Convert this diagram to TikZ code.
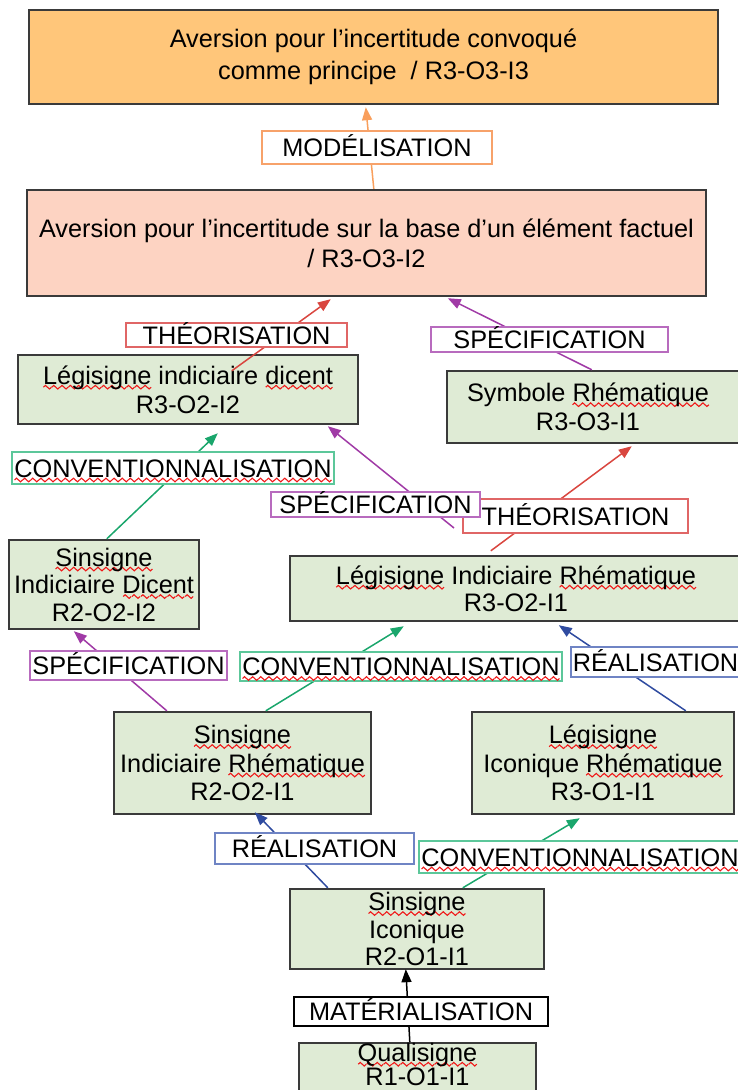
\documentclass[tikz,border=0pt]{standalone}
\usepackage{fontspec}
\setmainfont{Liberation Sans}
\usetikzlibrary{arrows.meta,calc}
\definecolor{fOrange}{HTML}{FFC67A}
\definecolor{fSalmon}{HTML}{FDD3C2}
\definecolor{fGreen}{HTML}{DFEBD5}
\definecolor{bGray}{HTML}{3A3A3A}
\definecolor{aOrange}{HTML}{F99F5C}
\definecolor{aRed}{HTML}{D9463F}
\definecolor{aPurple}{HTML}{A03AA6}
\definecolor{aGreen}{HTML}{1AA66C}
\definecolor{aBlue}{HTML}{2F4BA0}
\definecolor{lOrange}{HTML}{F7A26A}
\definecolor{lRed}{HTML}{E06666}
\definecolor{lPurple}{HTML}{B86BBE}
\definecolor{lGreen}{HTML}{5CC79A}
\definecolor{lBlue}{HTML}{6F84C4}
\definecolor{wRed}{HTML}{F01818}
\newbox\wvbox
\newbox\wvseg
\newcommand\wv[1]{\setbox\wvbox\hbox{#1}\setbox\wvseg\hbox{\tikz[x=1pt,y=1pt]{\useasboundingbox (0,-2) rectangle (8,2); \draw[wRed,line width=1.1pt] (0,0) sin (2,1.8) cos (4,0) sin (6,-1.8) cos (8,0);}}\rlap{\lower5pt\hbox to\wd\wvbox{\xleaders\copy\wvseg\hfil}}\box\wvbox}
\begin{document}
\begin{tikzpicture}[x=1pt,y=-1pt,
  box/.style={draw=bGray, line width=2.4pt, align=center, inner sep=0pt, font=\fontsize{25.3}{29}\selectfont},
  lab/.style={draw=#1, fill=white, line width=1.8pt, inner xsep=2pt, inner ysep=0pt, text height=18pt, text depth=0pt, font=\fontsize{25.3}{29}\selectfont},
  arr/.style={draw=#1, line width=1.5pt, -{Triangle[length=13pt,width=10pt]}}]
\useasboundingbox (0,0) rectangle (738,1090);
% boxes
\node[box, fill=fOrange, minimum width=689pt, minimum height=94pt, font=\fontsize{25.3}{32}\selectfont] (b1) at (373.5,57) {Aversion pour l’incertitude convoqué\\comme principe~ / R3-O3-I3};
\node[box, fill=fSalmon, minimum width=679pt, minimum height=106pt, font=\fontsize{25.3}{30}\selectfont] (b2) at (366.5,243) {Aversion pour l’incertitude sur la base d’un élément factuel\\/ R3-O3-I2};
\node[box, fill=fGreen, minimum width=340pt, minimum height=69pt] (b3) at (188,389.5) {\wv{Légisigne} indiciaire \wv{dicent}\\R3-O2-I2};
\node[box, fill=fGreen, minimum width=298pt, minimum height=72pt] (b4) at (596,407) {Symbole \wv{Rhématique}\hspace*{16pt}\\R3-O3-I1\hspace*{16pt}};
\node[box, fill=fGreen, minimum width=190pt, minimum height=89pt, font=\fontsize{25.3}{27.5}\selectfont] (b5) at (104,584.5) {\wv{Sinsigne}\\Indiciaire \wv{Dicent}\\R2-O2-I2};
\node[box, fill=fGreen, minimum width=452pt, minimum height=65pt, font=\fontsize{25.3}{27}\selectfont] (b6) at (516,588.5) {\wv{Légisigne} Indiciaire \wv{Rhématique}\\R3-O2-I1};
\node[box, fill=fGreen, minimum width=257pt, minimum height=102pt, font=\fontsize{25.3}{28.5}\selectfont] (b7) at (242.5,763) {\wv{Sinsigne}\\Indiciaire \wv{Rhématique}\\R2-O2-I1};
\node[box, fill=fGreen, minimum width=262pt, minimum height=102pt, font=\fontsize{25.3}{28.5}\selectfont] (b8) at (603,763) {\wv{Légisigne}\\Iconique \wv{Rhématique}\\R3-O1-I1};
\node[box, fill=fGreen, minimum width=254pt, minimum height=80pt, font=\fontsize{25.3}{27.5}\selectfont] (b9) at (417,929) {\wv{Sinsigne}\\Iconique\\R2-O1-I1};
\node[box, fill=fGreen, minimum width=237pt, anchor=north, text height=42pt, text depth=48pt, font=\fontsize{25.3}{24}\selectfont] (b10) at (417.5,1042) {\wv{Qualisigne}\\R1-O1-I1};
% connectors
\coordinate (p5) at (454,528);
\draw[arr=aOrange] ($(b2.north west)+(348,0)$) -- ($(b1.south west)+(338,2)$);
\draw[arr=aRed] ($(b3.north west)+(215,17)$) -- ($(b2.south west)+(305,2)$);
\draw[arr=aPurple] ($(b4.north west)+(146,0)$) -- ($(b2.south west)+(422,1)$);
\draw[arr=aGreen] ($(b5.north west)+(99,0)$) -- ($(b3.south west)+(201,8)$);
\draw[arr=aPurple] (p5) -- ($(b3.south west)+(311,1)$);
\draw[arr=aRed] ($(b6.north west)+(202,-4)$) -- ($(b4.south west)+(186,2)$);
\draw[arr=aPurple] ($(b7.north west)+(54,0)$) -- ($(b5.south west)+(66,1)$);
\draw[arr=aGreen] ($(b7.north west)+(153,0)$) -- ($(b6.south west)+(115,4)$);
\draw[arr=aBlue] ($(b8.north west)+(215,0)$) -- ($(b6.south west)+(270,3)$);
\draw[arr=aBlue] ($(b9.north west)+(39,0)$) -- ($(b7.south west)+(142,-3)$);
\draw[arr=aGreen] ($(b9.north west)+(174,0)$) -- ($(b8.south west)+(109,3)$);
\draw[arr=black] ($(b10.north west)+(112,0)$) -- ($(b9.south west)+(117,-1)$);
% labels
\node[lab=lOrange, minimum width=230pt, minimum height=33pt] (l1) at (377,147.5) {MODÉLISATION};
\node[lab=lRed, minimum width=221pt, minimum height=24pt] (l2) at (236.5,335) {THÉORISATION};
\node[lab=lPurple, minimum width=237pt, minimum height=25pt] (l3) at (549.5,339.5) {SPÉCIFICATION};
\node[lab=lGreen, minimum width=322pt, minimum height=32pt] (l4) at (173,468) {\wv{CONVENTIONNALISATION}};
\node[lab=lRed, minimum width=225pt, minimum height=34pt] (l5) at (575.5,516) {THÉORISATION};
\node[lab=lPurple, minimum width=209pt, minimum height=25pt] (l6) at (375.5,504.5) {SPÉCIFICATION};
\node[lab=lPurple, minimum width=197pt, minimum height=29pt] (l7) at (128.5,665.5) {SPÉCIFICATION};
\node[lab=lGreen, minimum width=318pt, minimum height=29pt] (l8) at (401,666.5) {\wv{CONVENTIONNALISATION}};
\node[lab=lBlue, minimum width=169pt, minimum height=30pt] (l9) at (655.5,662) {RÉALISATION};
\node[lab=lBlue, minimum width=199pt, minimum height=31pt] (l10) at (314.5,848.5) {RÉALISATION};
\node[lab=lGreen, minimum width=322pt, minimum height=32pt] (l11) at (580,857) {\wv{CONVENTIONNALISATION}};
\node[lab=black, minimum width=254pt, minimum height=29pt] (l12) at (421,1011.5) {MATÉRIALISATION};
\end{tikzpicture}
\end{document}
